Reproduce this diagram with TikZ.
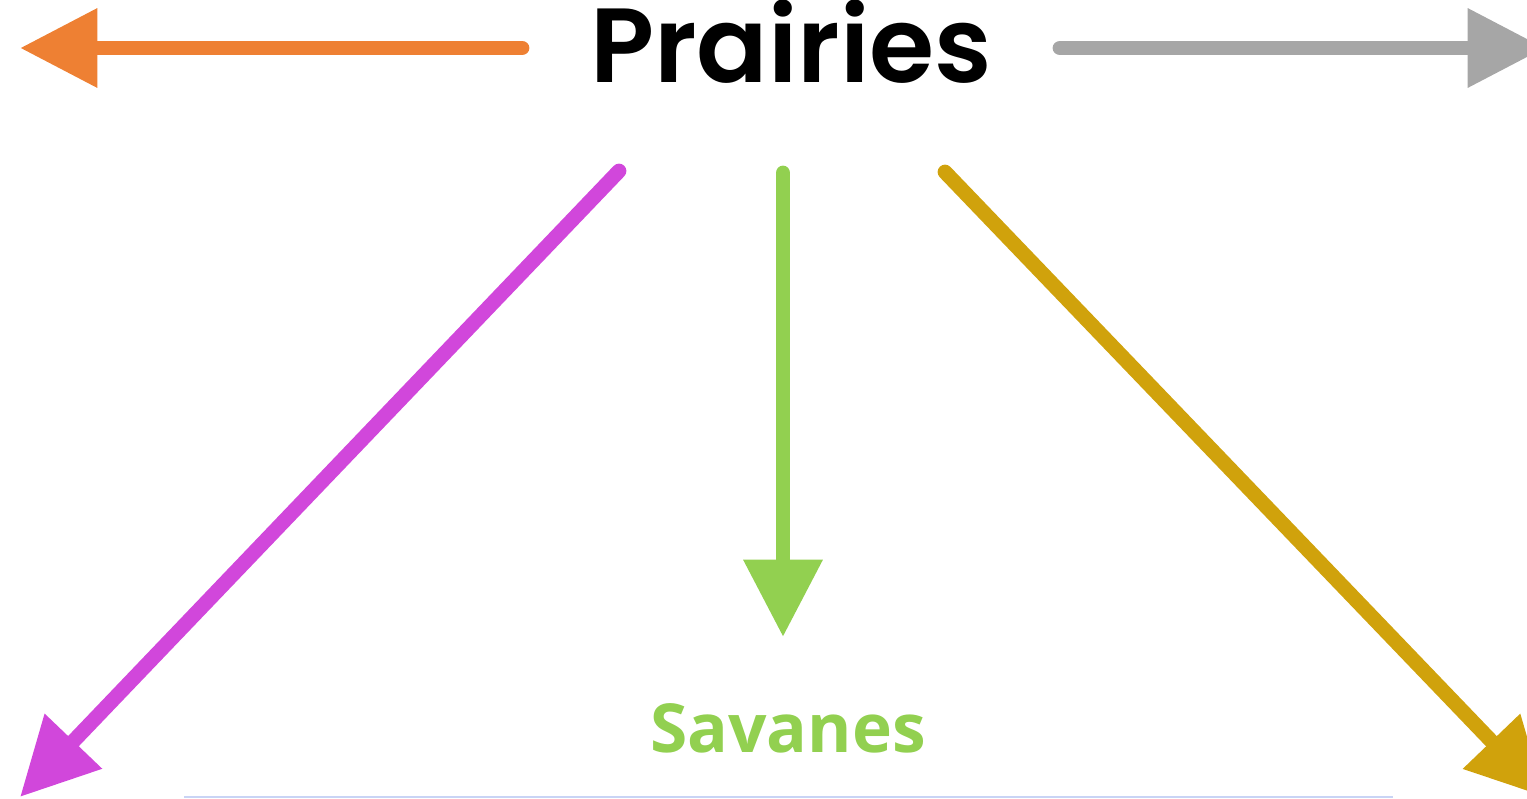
\documentclass[tikz,border=0pt]{standalone}
\usepackage{fontspec}
\setmainfont{Poppins}[BoldFont={Poppins SemiBold}]
\newfontfamily\labelfont{Open Sans}[BoldFont={Open Sans Bold}]
\usepackage{xcolor}
\usetikzlibrary{positioning,arrows.meta}
\definecolor{mOrange}{HTML}{EE8033}
\definecolor{mGrey}{HTML}{A6A6A6}
\definecolor{mGreen}{HTML}{92D050}
\definecolor{mMagenta}{HTML}{D147DB}
\definecolor{mGold}{HTML}{D0A20C}
\definecolor{mPaleBlue}{HTML}{C9D4F5}
\tikzset{
  biome/.style={line width=8.4pt, line cap=round, -{Triangle[length=44pt, width=43pt]}},
}
\begin{document}
\begin{tikzpicture}[x=0.02cm, y=-0.02cm]
\useasboundingbox (0,0) rectangle (1527,798);
\node[anchor=base, inner sep=0pt, font=\fontsize{60}{60}\selectfont\bfseries] (prairies) at (791,82) {Prairies};
\node[anchor=base, inner sep=0pt, text=mGreen, font=\labelfont\fontsize{38.5}{38.5}\selectfont\bfseries] (savanes) at (788,752) {Savanes};
\coordinate (westStart) at (522,48);
\coordinate (westEnd) at (20,48);
\coordinate (eastStart) at (1060,48);
\coordinate (eastEnd) at (1545,48);
\coordinate (swStart) at (619,171);
\coordinate (swEnd) at (20,797);
\coordinate (sStart) at (783,173);
\coordinate (sEnd) at (783,637);
\coordinate (seStart) at (945,172);
\coordinate (seEnd) at (1545,797);
\draw[biome, mOrange] (westStart) -- (westEnd);
\draw[biome, mGrey] (eastStart) -- (eastEnd);
\draw[biome, mMagenta] (swStart) -- (swEnd);
\draw[biome, mGreen] (sStart) -- (sEnd);
\draw[biome, mGold] (seStart) -- (seEnd);
\draw[mPaleBlue, line width=1.2pt] (184,797) -- (1393,797);
\end{tikzpicture}
\end{document}
